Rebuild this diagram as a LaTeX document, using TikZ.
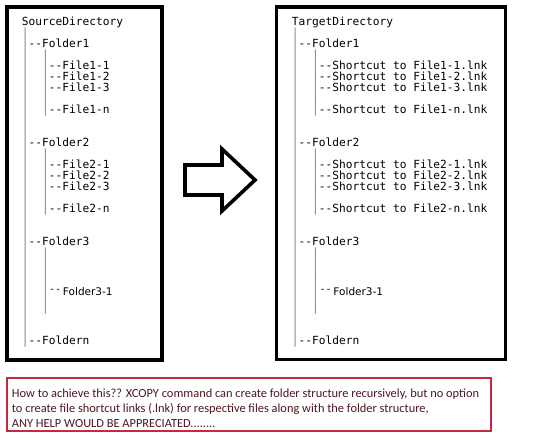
\documentclass[tikz,border=0pt]{standalone}
\usepackage{fontspec}
\newfontfamily\treefont{DejaVu Sans Mono}
\newfontfamily\subfont{DejaVu Sans}
\newfontfamily\notefont{Carlito}
\definecolor{pipegray}{gray}{0.5}
\definecolor{notered}{RGB}{196,42,62}
\definecolor{notetext}{RGB}{78,22,28}
\newcommand{\pp}{\textcolor{pipegray}{|}}
\newcommand{\dd}{-{}-}
\newcommand{\treesize}{\treefont\fontsize{11.2}{11}\selectfont\lineskiplimit=-20pt\relax}

\begin{document}
\begin{tikzpicture}[x=1pt,y=-1pt]
\useasboundingbox (0,0) rectangle (540,442);
\tikzset{panel/.style={black, line width=3.6pt},
  tree/.style={anchor=base west, inner sep=0pt, align=left, font=\treesize},
  sub/.style={anchor=base west, inner sep=0pt, font=\subfont\fontsize{10.5}{12}\selectfont}}
\draw[panel] (6.7,6.7) rectangle (162,360);
\draw[panel] (276.5,6.7) rectangle (505.5,359.5);
% source tree (placed by the baseline of its last line)
\node[tree] (srctree) at (21.7,344.5) {SourceDirectory\\
\pp\\
\pp\dd Folder1\\
\pp~~\pp\\
\pp~~\pp\dd File1-1\\
\pp~~\pp\dd File1-2\\
\pp~~\pp\dd File1-3\\
\pp~~\pp\\
\pp~~\pp\dd File1-n\\
\pp\\
\pp\\
\pp\dd Folder2\\
\pp~~\pp\\
\pp~~\pp\dd File2-1\\
\pp~~\pp\dd File2-2\\
\pp~~\pp\dd File2-3\\
\pp~~\pp\\
\pp~~\pp\dd File2-n\\
\pp\\
\pp\\
\pp\dd Folder3\\
\pp~~\pp\\
\pp~~\pp\\
\pp~~\pp\\
\pp~~\pp\\
\pp~~\pp\\
\pp~~\pp\\
\pp\\
\pp\\
\pp\dd Foldern};
\node[sub] (srcsub) at (49,295.5) {\raisebox{3pt}{\treefont\fontsize{10}{10}\selectfont\dd}\,Folder3-1};
% arrow
\draw[line width=3.6pt] (185,165) -- (222,165) -- (222,149) -- (255,180)
  -- (222,211) -- (222,195) -- (185,195) -- cycle;
% target tree
\node[tree] (tgttree) at (291.7,344.5) {TargetDirectory\\
\pp\\
\pp\dd Folder1\\
\pp~~\pp\\
\pp~~\pp\dd Shortcut to File1-1.lnk\\
\pp~~\pp\dd Shortcut to File1-2.lnk\\
\pp~~\pp\dd Shortcut to File1-3.lnk\\
\pp~~\pp\\
\pp~~\pp\dd Shortcut to File1-n.lnk\\
\pp\\
\pp\\
\pp\dd Folder2\\
\pp~~\pp\\
\pp~~\pp\dd Shortcut to File2-1.lnk\\
\pp~~\pp\dd Shortcut to File2-2.lnk\\
\pp~~\pp\dd Shortcut to File2-3.lnk\\
\pp~~\pp\\
\pp~~\pp\dd Shortcut to File2-n.lnk\\
\pp\\
\pp\\
\pp\dd Folder3\\
\pp~~\pp\\
\pp~~\pp\\
\pp~~\pp\\
\pp~~\pp\\
\pp~~\pp\\
\pp~~\pp\\
\pp\\
\pp\\
\pp\dd Foldern};
\node[sub] (tgtsub) at (319.5,295.5) {\raisebox{3pt}{\treefont\fontsize{10}{10}\selectfont\dd}\,Folder3-1};
% question
\draw[notered, line width=2.4pt] (7.2,378.2) rectangle (490.8,430.8);
\node[anchor=base west, inner sep=0pt, align=left, text=notetext,
  font=\notefont\fontsize{12.4}{15}\selectfont] (note) at (11.7,427.5)
  {How to achieve this?? XCOPY command can create folder structure recursively, but no option\\
  to create file shortcut links (.lnk) for respective files along with the folder structure,\\
  ANY HELP WOULD BE APPRECIATED........};
\end{tikzpicture}
\end{document}
